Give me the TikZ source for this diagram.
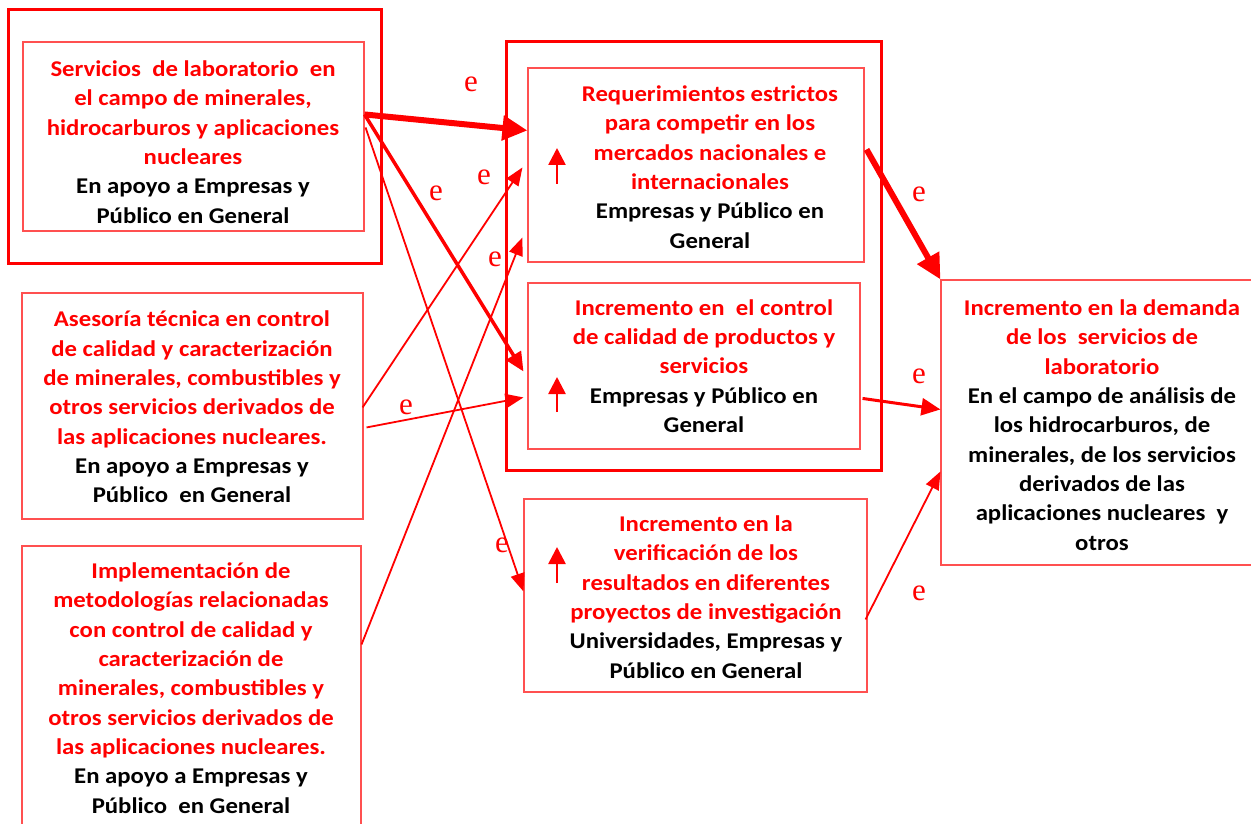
\documentclass[tikz,border=0pt]{standalone}
\usepackage{fontspec}
\setmainfont{Carlito}[FakeStretch=1.1]
\newfontfamily\efont{Liberation Serif}
\usetikzlibrary{arrows.meta,calc}
\definecolor{rd}{RGB}{255,0,0}
\definecolor{lrd}{RGB}{255,80,80}
\newcommand{\bk}[1]{\textcolor{black}{#1}}
\tikzset{
  box/.style={draw=lrd, line width=1.1pt, inner sep=0pt},
  frame/.style={draw=rd, line width=3pt, inner sep=0pt},
  txt/.style={align=center, text=rd, inner sep=0pt, font=\fontsize{22.5}{29.3}\selectfont\bfseries},
  elab/.style={text=rd, inner sep=0pt, font=\efont\fontsize{31}{31}\selectfont},
  thin/.style={draw=rd, line width=1.8pt, -{Triangle[length=18pt 0,width=14pt 0]}},
  mid/.style={draw=rd, line width=3.5pt, -{Triangle[length=19pt 0,width=17pt 0]}},
  thick/.style={draw=rd, line width=6pt, -{Triangle[length=25pt 0,width=24pt 0]}},
  up/.style={draw=rd, line width=2.6pt, -{Triangle[length=17pt 0,width=17pt 0]}}
}
\begin{document}
\begin{tikzpicture}[x=1pt,y=-1pt]
\useasboundingbox (0,0) rectangle (1251,824);
% frames
\node[frame, minimum width=373pt, minimum height=253pt] (f1) at (194.5,136.5) {};
\node[frame, minimum width=375pt, minimum height=428pt] (f2) at (693.5,256) {};
% boxes
\node[box, minimum width=341pt, minimum height=189pt] (b1) at (193.5,136.5) {};
\node[box, minimum width=341pt, minimum height=226pt] (b2) at (192.5,406) {};
\node[box, minimum width=339pt, minimum height=284pt] (b3) at (191.5,688) {};
\node[box, minimum width=336pt, minimum height=194pt] (bA) at (696,165) {};
\node[box, minimum width=332pt, minimum height=166pt] (bB) at (694,366) {};
\node[box, minimum width=343pt, minimum height=193pt] (bC) at (695.5,595.5) {};
\node[box, minimum width=315pt, minimum height=285pt] (bD) at (1098.5,422.5) {};
% texts
\node[txt] (t1) at (193,142) {Servicios\ \ de laboratorio\ \ en\\el campo de minerales,\\hidrocarburos y aplicaciones\\nucleares\\\bk{En apoyo a Empresas y}\\\bk{Público en General}};
\node[txt] (t2) at (192,407) {Asesoría técnica en control\\de calidad y caracterización\\de minerales, combustibles y\\otros servicios derivados de\\las aplicaciones nucleares.\\\bk{En apoyo a Empresas y}\\\bk{Público\ \ en General}};
\node[txt] (t3) at (191,688) {Implementación de\\metodologías relacionadas\\con control de calidad y\\caracterización de\\minerales, combustibles y\\otros servicios derivados de\\las aplicaciones nucleares.\\\bk{En apoyo a Empresas y}\\\bk{Público\ \ en General}};
\node[txt] (tA) at (710,167) {Requerimientos estrictos\\para competir en los\\mercados nacionales e\\internacionales\\\bk{Empresas y Público en}\\\bk{General}};
\node[txt] (tB) at (704,366) {Incremento en\ \ el control\\de calidad de productos y\\servicios\\\bk{Empresas y Público en}\\\bk{General}};
\node[txt] (tC) at (706,597) {Incremento en la\\verificación de los\\resultados en diferentes\\proyectos de investigación\\\bk{Universidades, Empresas y}\\\bk{Público en General}};
\node[txt] (tD) at (1102,425) {Incremento en la demanda\\de los\ \ servicios de\\laboratorio\\\bk{En el campo de análisis de}\\\bk{los hidrocarburos, de}\\\bk{minerales, de los servicios}\\\bk{derivados de las}\\\bk{aplicaciones nucleares\ \ y}\\\bk{otros}};
% up arrows
\draw[up] (557,184) -- (557,148);
\draw[up] (557,412) -- (557,377);
\draw[up] (557,583) -- (557,547);
% connectors
\draw[thick] ($(b1.north east)+(0,73)$) -- ($(bA.north west)+(0,63)$);
\draw[mid] ($(b1.north east)+(0,73)$) -- ($(bB.north west)+(-4,89)$);
\draw[thin] ($(b1.north east)+(1,86)$) -- ($(bC.north west)+(0,93)$);
\draw[thin] ($(b2.north east)+(-1,115)$) -- ($(bA.north west)+(-5,100)$);
\draw[thin] ($(b2.north east)+(3,135)$) -- ($(bB.north west)+(-4,115)$);
\draw[thin] ($(b3.north east)+(0,99)$) -- ($(bA.north west)+(-5,170)$);
\draw[thick] ($(bA.north east)+(2,82)$) -- (bD.north west);
\draw[mid, line width=3pt] ($(bB.north east)+(2,116)$) -- ($(bD.north west)+(0,130)$);
\draw[thin] ($(bC.north east)+(-2,121)$) -- ($(bD.north west)+(0,192)$);
% labels
\node[elab] (e1) at (471,84) {e};
\node[elab] (e2) at (484,177) {e};
\node[elab] (e3) at (436,193) {e};
\node[elab] (e4) at (495,259) {e};
\node[elab] (e5) at (406,407) {e};
\node[elab] (e6) at (502,545) {e};
\node[elab] (e7) at (919,194) {e};
\node[elab] (e8) at (919,376) {e};
\node[elab] (e9) at (919,593) {e};
\end{tikzpicture}
\end{document}
